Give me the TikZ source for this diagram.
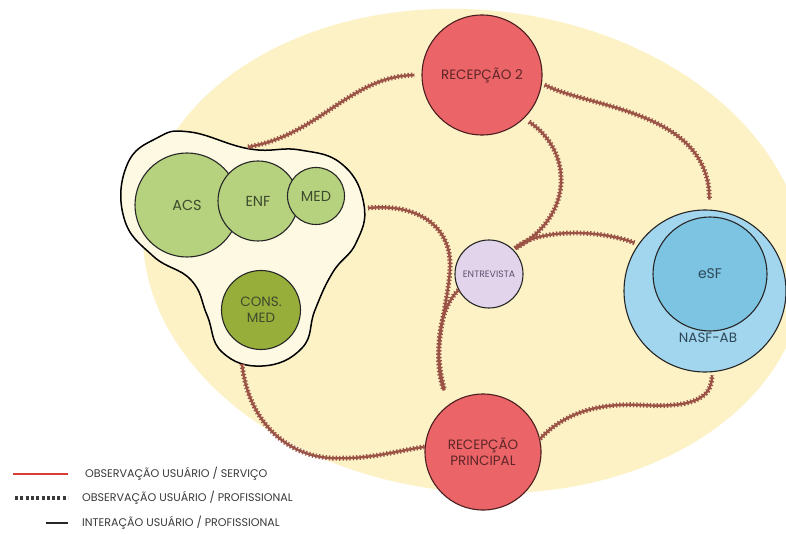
\documentclass[tikz,border=0pt]{standalone}
\usepackage{fontspec}
\setmainfont{Poppins}
\usetikzlibrary{shapes.geometric}
\definecolor{bgyel}{HTML}{FCF2C6}
\definecolor{blobfill}{HTML}{FEF9E3}
\definecolor{lgreen}{HTML}{B6D27F}
\definecolor{dgreen}{HTML}{97AE3B}
\definecolor{redc}{HTML}{EB6467}
\definecolor{lav}{HTML}{E2D5EB}
\definecolor{lblue}{HTML}{A2D5EE}
\definecolor{mblue}{HTML}{7DC4E2}
\definecolor{brn}{HTML}{9B5346}
\definecolor{redtxt}{HTML}{5E2628}
\definecolor{grntxt}{HTML}{3E4A2C}
\definecolor{lavtxt}{HTML}{5F5070}
\definecolor{bluetxt}{HTML}{2C4858}
\definecolor{legred}{HTML}{D83C35}
\definecolor{legtxt}{HTML}{3A3A3A}
\begin{document}
\begin{tikzpicture}[x=1pt,y=-1pt,
  circ/.style={circle, draw=black!85, line width=1.1pt, inner sep=0pt, align=center},
  redn/.style={circ, fill=redc, draw=redtxt!80!black, text=redtxt, font=\fontsize{13.5}{16.5}\selectfont},
  grn/.style={circ, fill=lgreen, text=grntxt, font=\fontsize{14.5}{17}\selectfont},
  conn/.style={draw=brn, line width=2.4pt, postaction={draw=brn, line width=5pt, dash pattern=on 1.3pt off 2.1pt}},
  legtext/.style={anchor=west, inner sep=0pt, text=legtxt, font=\fontsize{11.1}{13}\selectfont}
]
\useasboundingbox (0,0) rectangle (786,534);
\fill[white] (0,0) rectangle (786,534);
% background ellipse
\fill[bgyel, rotate around={-6:(474,251)}] (474,251) ellipse [x radius=332pt, y radius=241pt];

% team blob
\draw[black, line width=1.5pt, fill=blobfill] plot[smooth cycle, tension=0.75] coordinates {
  (190,132) (250,149) (300,150) (343,165) (364,205) (356,243) (333,272)
  (315,310) (302,348) (262,366) (222,352) (207,315) (191,280) (153,256)
  (124,218) (127,165) (157,138)};

% nodes
\node[grn, minimum size=104pt] (acs) at (187,205) {ACS};
\node[grn, minimum size=80pt] (enf) at (258,201) {ENF};
\node[grn, minimum size=57pt] (med) at (316,196) {MED};
\node[grn, fill=dgreen, minimum size=79pt, font=\fontsize{13.5}{16}\selectfont] (cons) at (261,310) {CONS.\\MED};

\node[redn, minimum size=120pt] (r2) at (482,75) {RECEPÇÃO 2};
\node[redn, minimum size=116pt] (rp) at (483,452) {RECEPÇÃO\\PRINCIPAL};
\node[circ, fill=lav, minimum size=68pt, text=lavtxt, font=\fontsize{9.3}{11}\selectfont] (ent) at (489,274) {ENTREVISTA};

\node[circ, fill=lblue, minimum size=162pt] (nasf) at (705,291) {};
\node[circ, fill=mblue, minimum size=114pt, text=bluetxt, font=\fontsize{14}{16}\selectfont] (esf) at (710,274) {eSF};
\node[text=bluetxt, font=\fontsize{13.5}{16}\selectfont, inner sep=0pt] (nasflbl) at (708,338) {NASF-AB};

% free ends on the team blob
\coordinate (blobT) at (248,147);
\coordinate (blobR) at (368,208);
\coordinate (blobB) at (242,364);

% connectors
\draw[conn, shorten >=7pt] (blobT) .. controls (320,135) and (350,76) .. (r2.180);
\draw[conn, shorten <=3pt, shorten >=10pt] (r2.-8) .. controls (588,108) and (710,110) .. (nasf.87);
\draw[conn, shorten <=6pt, shorten >=2pt] (r2.-46) .. controls (572,150) and (576,215) .. (ent.45);
\draw[conn, shorten <=2pt, shorten >=4pt] (ent.45) .. controls (535,230) and (595,228) .. (nasf.145);
\draw[conn, shorten >=15pt] (blobR) .. controls (420,203) and (452,228) .. (450,268)
   .. controls (448,310) and (430,350) .. (rp.126);
\draw[conn, shorten >=15pt] (ent.208) .. controls (442,305) and (432,345) .. (rp.126);
\draw[conn] (blobB) .. controls (248,420) and (285,455) .. (330,458)
   .. controls (370,460) and (400,450) .. (rp.175);
\draw[conn, shorten >=3pt] (rp.13) .. controls (565,412) and (600,403) .. (640,405)
   .. controls (690,408) and (712,400) .. (nasf.-85);

% legend
\coordinate (la1) at (13,474); \coordinate (lb1) at (68,474);
\coordinate (la2) at (15,498); \coordinate (lb2) at (68,498);
\coordinate (la3) at (46,523); \coordinate (lb3) at (68,523);
\draw[legred, line width=2.4pt] (la1) -- (lb1);
\draw[legtxt, line width=4pt, dash pattern=on 3pt off 2.3pt] (la2) -- (lb2);
\draw[black!85, line width=1.4pt] (la3) -- (lb3);
\node[legtext] (t1) at (85,474) {OBSERVAÇÃO USUÁRIO / SERVIÇO};
\node[legtext] (t2) at (82,498) {OBSERVAÇÃO USUÁRIO / PROFISSIONAL};
\node[legtext] (t3) at (82,523) {INTERAÇÃO USUÁRIO / PROFISSIONAL};
\end{tikzpicture}
\end{document}
